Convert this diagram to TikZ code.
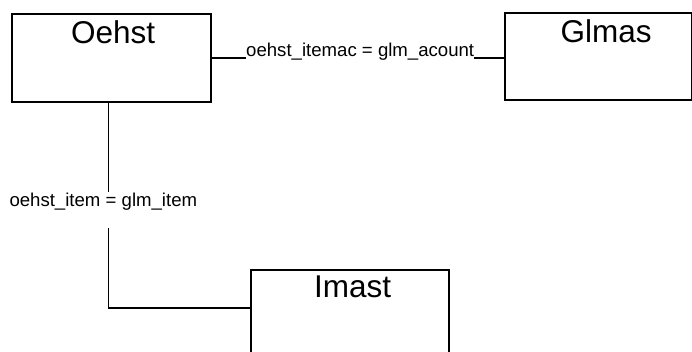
\documentclass[tikz,border=0pt]{standalone}
\usepackage{fontspec}
\setmainfont{Liberation Sans}
\begin{document}
\begin{tikzpicture}[x=1pt,y=-1pt,
  tbl/.style={draw, line width=1.9pt, rectangle, inner sep=0pt, anchor=north west},
  ttl/.style={font=\fontsize{31.5}{31.5}\selectfont, anchor=base west, inner sep=0pt},
  lbl/.style={font=\fontsize{18.6}{18.6}\selectfont, anchor=base west, inner sep=0pt},
  conn/.style={line width=1.5pt}]
\useasboundingbox (0,0) rectangle (692,351);
\clip (0,0) rectangle (692,351);

% tables
\node[tbl, minimum width=199pt, minimum height=87.5pt] (oehst) at (10.7,13.3) {};
\node[tbl, minimum width=187pt, minimum height=87pt] (glmas) at (504,12) {};
\node[tbl, minimum width=198pt, minimum height=110pt] (imast) at (250.3,269) {};

% table titles
\node[ttl] (oehstT) at (71,43) {Oehst};
\node[ttl] (glmasT) at (560.5,42.7) {Glmas};
\node[ttl] (imastT) at (314,297) {Imast};

% join labels
\node[lbl] (joinA) at (246,56) {oehst\_itemac = glm\_acount};
\node[lbl] (joinB) at (9.3,206) {oehst\_item = glm\_item};

% helper points for the vertical join
\coordinate (vx) at (108.5,0);
\coordinate (resume) at (108.5,228);
\coordinate (bend) at (108.5,308);

% connectors
\draw[conn] (oehst.east) -- (oehst.east -| joinA.west);
\draw[conn] (joinA.east |- oehst.east) -- (glmas.west |- oehst.east);
\draw[conn] (oehst.south -| vx) -- (vx |- joinB.north);
\draw[conn] (resume) -- (bend) -- (bend -| imast.west);
\end{tikzpicture}
\end{document}
